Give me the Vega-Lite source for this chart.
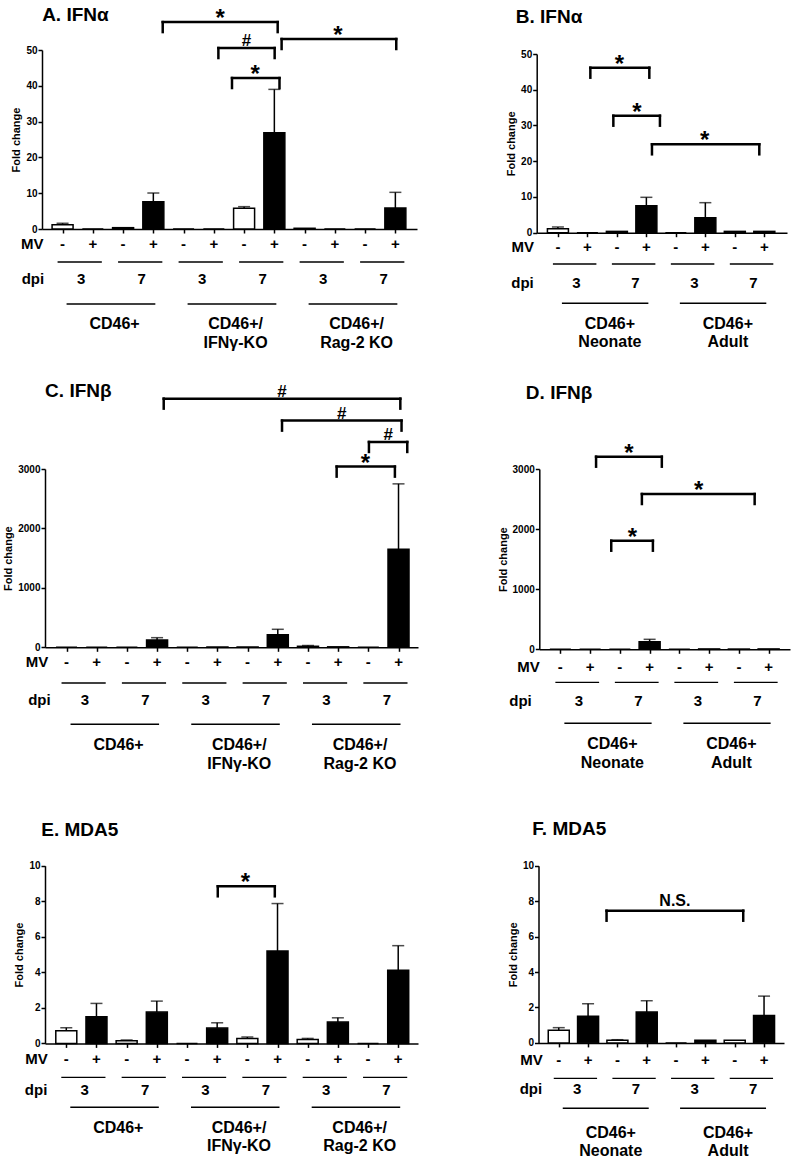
{
"$schema":"https://vega.github.io/schema/vega-lite/v6.json",
"width":794,"height":1158,"autosize":{"type":"none"},"padding":0,"background":"white",
"config":{"font":"Liberation Sans","view":{"stroke":null},
"axis":{"grid":false,"domainColor":"black","domainWidth":1.5,"tickColor":"black","tickWidth":1.5,"tickSize":4,"labelFont":"Liberation Sans","labelFontWeight":"bold","labelFontSize":10,"labelColor":"black","labelPadding":1,"titleFont":"Liberation Sans","titleFontWeight":"bold","titleFontSize":11,"titleColor":"black","titlePadding":4},
"text":{"font":"Liberation Sans","fontWeight":"bold","color":"black"}},
"datasets":{
"bars":[
{"p":"A","pos":0,"mv":"-","v":1.2,"err":1.6},{"p":"A","pos":1,"mv":"+","v":0},{"p":"A","pos":2,"mv":"-","v":0.37},{"p":"A","pos":3,"mv":"+","v":7.6,"err":10.05},{"p":"A","pos":4,"mv":"-","v":0},{"p":"A","pos":5,"mv":"+","v":0},{"p":"A","pos":6,"mv":"-","v":5.77,"err":6.24},{"p":"A","pos":7,"mv":"+","v":26.9,"err":39.0},{"p":"A","pos":8,"mv":"-","v":0.2},{"p":"A","pos":9,"mv":"+","v":0},{"p":"A","pos":10,"mv":"-","v":0},{"p":"A","pos":11,"mv":"+","v":5.87,"err":10.24},
{"p":"B","pos":0,"mv":"-","v":1.1,"err":1.6},{"p":"B","pos":1,"mv":"+","v":0},{"p":"B","pos":2,"mv":"-","v":0.37},{"p":"B","pos":3,"mv":"+","v":7.55,"err":9.9},{"p":"B","pos":4,"mv":"-","v":0},{"p":"B","pos":5,"mv":"+","v":4.2,"err":8.4},{"p":"B","pos":6,"mv":"-","v":0.37},{"p":"B","pos":7,"mv":"+","v":0.37},
{"p":"C","pos":0,"mv":"-","v":0},{"p":"C","pos":1,"mv":"+","v":0},{"p":"C","pos":2,"mv":"-","v":0},{"p":"C","pos":3,"mv":"+","v":123,"err":162},{"p":"C","pos":4,"mv":"-","v":0},{"p":"C","pos":5,"mv":"+","v":5},{"p":"C","pos":6,"mv":"-","v":5},{"p":"C","pos":7,"mv":"+","v":212,"err":303},{"p":"C","pos":8,"mv":"-","v":17,"err":30},{"p":"C","pos":9,"mv":"+","v":8},{"p":"C","pos":10,"mv":"-","v":0},{"p":"C","pos":11,"mv":"+","v":1650,"err":2750},
{"p":"D","pos":0,"mv":"-","v":0},{"p":"D","pos":1,"mv":"+","v":0},{"p":"D","pos":2,"mv":"-","v":0},{"p":"D","pos":3,"mv":"+","v":126,"err":166},{"p":"D","pos":4,"mv":"-","v":0},{"p":"D","pos":5,"mv":"+","v":6},{"p":"D","pos":6,"mv":"-","v":4},{"p":"D","pos":7,"mv":"+","v":6},
{"p":"E","pos":0,"mv":"-","v":0.71,"err":0.88},{"p":"E","pos":1,"mv":"+","v":1.5,"err":2.25},{"p":"E","pos":2,"mv":"-","v":0.15,"err":0.19},{"p":"E","pos":3,"mv":"+","v":1.76,"err":2.38},{"p":"E","pos":4,"mv":"-","v":0},{"p":"E","pos":5,"mv":"+","v":0.86,"err":1.16},{"p":"E","pos":6,"mv":"-","v":0.28,"err":0.36},{"p":"E","pos":7,"mv":"+","v":5.2,"err":7.87},{"p":"E","pos":8,"mv":"-","v":0.22,"err":0.28},{"p":"E","pos":9,"mv":"+","v":1.2,"err":1.44},{"p":"E","pos":10,"mv":"-","v":0},{"p":"E","pos":11,"mv":"+","v":4.12,"err":5.5},
{"p":"F","pos":0,"mv":"-","v":0.71,"err":0.86},{"p":"F","pos":1,"mv":"+","v":1.5,"err":2.21},{"p":"F","pos":2,"mv":"-","v":0.15,"err":0.18},{"p":"F","pos":3,"mv":"+","v":1.74,"err":2.38},{"p":"F","pos":4,"mv":"-","v":0},{"p":"F","pos":5,"mv":"+","v":0.15},{"p":"F","pos":6,"mv":"-","v":0.15},{"p":"F","pos":7,"mv":"+","v":1.55,"err":2.64}
],
"dpi":[
{"p":"A","a":0,"b":1,"dpi":"3"},{"p":"A","a":2,"b":3,"dpi":"7"},{"p":"A","a":4,"b":5,"dpi":"3"},{"p":"A","a":6,"b":7,"dpi":"7"},{"p":"A","a":8,"b":9,"dpi":"3"},{"p":"A","a":10,"b":11,"dpi":"7"},
{"p":"B","a":0,"b":1,"dpi":"3"},{"p":"B","a":2,"b":3,"dpi":"7"},{"p":"B","a":4,"b":5,"dpi":"3"},{"p":"B","a":6,"b":7,"dpi":"7"},
{"p":"C","a":0,"b":1,"dpi":"3"},{"p":"C","a":2,"b":3,"dpi":"7"},{"p":"C","a":4,"b":5,"dpi":"3"},{"p":"C","a":6,"b":7,"dpi":"7"},{"p":"C","a":8,"b":9,"dpi":"3"},{"p":"C","a":10,"b":11,"dpi":"7"},
{"p":"D","a":0,"b":1,"dpi":"3"},{"p":"D","a":2,"b":3,"dpi":"7"},{"p":"D","a":4,"b":5,"dpi":"3"},{"p":"D","a":6,"b":7,"dpi":"7"},
{"p":"E","a":0,"b":1,"dpi":"3"},{"p":"E","a":2,"b":3,"dpi":"7"},{"p":"E","a":4,"b":5,"dpi":"3"},{"p":"E","a":6,"b":7,"dpi":"7"},{"p":"E","a":8,"b":9,"dpi":"3"},{"p":"E","a":10,"b":11,"dpi":"7"},
{"p":"F","a":0,"b":1,"dpi":"3"},{"p":"F","a":2,"b":3,"dpi":"7"},{"p":"F","a":4,"b":5,"dpi":"3"},{"p":"F","a":6,"b":7,"dpi":"7"}
],
"grp":[
{"p":"A","a":0,"b":3,"label":"CD46+"},{"p":"A","a":4,"b":7,"label":["CD46+/","IFNγ-KO"]},{"p":"A","a":8,"b":11,"label":["CD46+/","Rag-2 KO"]},
{"p":"B","a":0,"b":3,"label":["CD46+","Neonate"]},{"p":"B","a":4,"b":7,"label":["CD46+","Adult"]},
{"p":"C","a":0,"b":3,"label":"CD46+"},{"p":"C","a":4,"b":7,"label":["CD46+/","IFNγ-KO"]},{"p":"C","a":8,"b":11,"label":["CD46+/","Rag-2 KO"]},
{"p":"D","a":0,"b":3,"label":["CD46+","Neonate"]},{"p":"D","a":4,"b":7,"label":["CD46+","Adult"]},
{"p":"E","a":0,"b":3,"label":"CD46+"},{"p":"E","a":4,"b":7,"label":["CD46+/","IFNγ-KO"]},{"p":"E","a":8,"b":11,"label":["CD46+/","Rag-2 KO"]},
{"p":"F","a":0,"b":3,"label":["CD46+","Neonate"]},{"p":"F","a":4,"b":7,"label":["CD46+","Adult"]}
],
"br":[
{"p":"A","from":3.31,"to":7.11,"mid":5.21,"level":57.8,"label":"*"},
{"p":"A","from":5.15,"to":7.01,"mid":6.08,"level":50.55,"label":"#"},
{"p":"A","from":5.6,"to":7.17,"mid":6.37,"level":42.17,"label":"*"},
{"p":"A","from":7.24,"to":11.03,"mid":9.1,"level":53.07,"label":"*"},
{"p":"B","from":1.1,"to":3.1,"mid":2.09,"level":46.17,"label":"*"},
{"p":"B","from":1.88,"to":3.46,"mid":2.68,"level":32.74,"label":"*"},
{"p":"B","from":3.19,"to":6.83,"mid":4.98,"level":24.73,"label":"*"},
{"p":"C","from":3.22,"to":11.06,"mid":7.14,"level":4184,"label":"#"},
{"p":"C","from":7.14,"to":11.1,"mid":9.12,"level":3814,"label":"#"},
{"p":"C","from":10.02,"to":11.29,"mid":10.66,"level":3455,"label":"#"},
{"p":"C","from":8.95,"to":10.88,"mid":9.9,"level":3040,"label":"*"},
{"p":"D","from":1.2,"to":3.41,"mid":2.3,"level":3205,"label":"*"},
{"p":"D","from":2.74,"to":6.53,"mid":4.65,"level":2584,"label":"*"},
{"p":"D","from":1.71,"to":3.11,"mid":2.42,"level":1807,"label":"*"},
{"p":"E","from":5.02,"to":6.91,"mid":5.94,"level":8.84,"label":"*"},
{"p":"F","from":1.63,"to":6.29,"mid":3.96,"level":7.46,"label":"N.S."}
]
},
"resolve":{"scale":{"x":"independent","y":"independent"},"axis":{"x":"independent","y":"independent"}},
"layer":[
{"layer":[
{"data":{"name":"bars"},"transform":[{"filter":"datum.p==='A'"}],"mark":{"type":"bar","size":21,"stroke":"black","strokeWidth":1.5},"encoding":{"x":{"field":"pos","type":"quantitative","scale":{"domain":[-0.515,11.55],"range":[42,417],"nice":false,"zero":false},"axis":{"orient":"bottom","offset":-929,"values":[0,1,2,3,4,5,6,7,8,9,10,11],"labels":false,"title":null}},"y":{"field":"v","type":"quantitative","scale":{"domain":[0,50],"range":[229,50],"nice":false,"zero":false},"axis":{"orient":"left","offset":-42,"values":[0,10,20,30,40,50],"format":"d","title":"Fold change"}},"fill":{"field":"mv","type":"nominal","scale":{"domain":["-","+"],"range":["white","black"]},"legend":null}}},
{"data":{"name":"bars"},"transform":[{"filter":"datum.p==='A' && isValid(datum.err)"}],"mark":{"type":"rule","strokeWidth":1.5,"color":"black"},"encoding":{"x":{"field":"pos","type":"quantitative"},"y":{"field":"v","type":"quantitative"},"y2":{"field":"err"}}},
{"data":{"name":"bars"},"transform":[{"filter":"datum.p==='A' && isValid(datum.err)"}],"mark":{"type":"tick","orient":"horizontal","size":12,"thickness":1.5,"color":"black"},"encoding":{"x":{"field":"pos","type":"quantitative"},"y":{"field":"err","type":"quantitative"}}},
{"data":{"name":"bars"},"transform":[{"filter":"datum.p==='A'"}],"mark":{"type":"text","fontSize":15,"baseline":"middle"},"encoding":{"x":{"field":"pos","type":"quantitative"},"y":{"datum":-4.19},"text":{"field":"mv"}}},
{"data":{"name":"dpi"},"transform":[{"filter":"datum.p==='A'"}],"mark":{"type":"rule","strokeWidth":1.3,"color":"black","xOffset":-5,"x2Offset":9},"encoding":{"x":{"field":"a","type":"quantitative"},"x2":{"field":"b"},"y":{"datum":-9.22}}},
{"data":{"name":"dpi"},"transform":[{"filter":"datum.p==='A'"}],"mark":{"type":"text","fontSize":15,"baseline":"middle","dx":18.5},"encoding":{"x":{"field":"a","type":"quantitative"},"y":{"datum":-13.97},"text":{"field":"dpi"}}},
{"data":{"name":"grp"},"transform":[{"filter":"datum.p==='A'"}],"mark":{"type":"rule","strokeWidth":1.5,"color":"black","xOffset":4,"x2Offset":2},"encoding":{"x":{"field":"a","type":"quantitative"},"x2":{"field":"b"},"y":{"datum":-20.95}}},
{"data":{"name":"grp"},"transform":[{"filter":"datum.p==='A'"}],"mark":{"type":"text","fontSize":16,"baseline":"top","dx":52,"lineHeight":18.5},"encoding":{"x":{"field":"a","type":"quantitative"},"y":{"datum":-24.4},"text":{"field":"label"}}},
{"data":{"name":"br"},"transform":[{"filter":"datum.p==='A'"}],"mark":{"type":"rule","strokeWidth":2.5,"strokeCap":"square","color":"black"},"encoding":{"x":{"field":"from","type":"quantitative"},"x2":{"field":"to"},"y":{"field":"level","type":"quantitative"}}},
{"data":{"name":"br"},"transform":[{"filter":"datum.p==='A'"},{"fold":["from","to"],"as":["end","xe"]}],"mark":{"type":"rule","strokeWidth":2.5,"strokeCap":"square","color":"black","y2Offset":10},"encoding":{"x":{"field":"xe","type":"quantitative"},"y":{"field":"level","type":"quantitative"},"y2":{"field":"level"}}},
{"data":{"name":"br"},"transform":[{"filter":"datum.p==='A' && datum.label==='*'"}],"mark":{"type":"text","fontSize":24,"baseline":"alphabetic","dy":4},"encoding":{"x":{"field":"mid","type":"quantitative"},"y":{"field":"level","type":"quantitative"},"text":{"field":"label"}}},
{"data":{"name":"br"},"transform":[{"filter":"datum.p==='A' && datum.label!=='*'"}],"mark":{"type":"text","fontSize":17,"baseline":"alphabetic","dy":-2},"encoding":{"x":{"field":"mid","type":"quantitative"},"y":{"field":"level","type":"quantitative"},"text":{"field":"label"}}},
{"data":{"values":[{"t":"MV"}]},"mark":{"type":"text","fontSize":15,"baseline":"middle"},"encoding":{"x":{"datum":-1.0},"y":{"datum":-4.19},"text":{"field":"t"}}},
{"data":{"values":[{"t":"dpi"}]},"mark":{"type":"text","fontSize":15,"baseline":"middle"},"encoding":{"x":{"datum":-0.98},"y":{"datum":-13.97},"text":{"field":"t"}}},
{"data":{"values":[{"t":"A. IFNα"}]},"mark":{"type":"text","fontSize":19,"baseline":"middle","align":"left"},"encoding":{"x":{"datum":-0.676},"y":{"datum":59.83},"text":{"field":"t"}}}
]},
{"layer":[
{"data":{"name":"bars"},"transform":[{"filter":"datum.p==='B'"}],"mark":{"type":"bar","size":21,"stroke":"black","strokeWidth":1.5},"encoding":{"x":{"field":"pos","type":"quantitative","scale":{"domain":[-0.55,7.6],"range":[536.7,787],"nice":false,"zero":false},"axis":{"orient":"bottom","offset":-925.3,"values":[0,1,2,3,4,5,6,7],"labels":false,"title":null}},"y":{"field":"v","type":"quantitative","scale":{"domain":[0,50],"range":[232.7,54],"nice":false,"zero":false},"axis":{"orient":"left","offset":-536.7,"values":[0,10,20,30,40,50],"format":"d","title":"Fold change"}},"fill":{"field":"mv","type":"nominal","scale":{"domain":["-","+"],"range":["white","black"]},"legend":null}}},
{"data":{"name":"bars"},"transform":[{"filter":"datum.p==='B' && isValid(datum.err)"}],"mark":{"type":"rule","strokeWidth":1.5,"color":"black"},"encoding":{"x":{"field":"pos","type":"quantitative"},"y":{"field":"v","type":"quantitative"},"y2":{"field":"err"}}},
{"data":{"name":"bars"},"transform":[{"filter":"datum.p==='B' && isValid(datum.err)"}],"mark":{"type":"tick","orient":"horizontal","size":12,"thickness":1.5,"color":"black"},"encoding":{"x":{"field":"pos","type":"quantitative"},"y":{"field":"err","type":"quantitative"}}},
{"data":{"name":"bars"},"transform":[{"filter":"datum.p==='B'"}],"mark":{"type":"text","fontSize":15,"baseline":"middle"},"encoding":{"x":{"field":"pos","type":"quantitative"},"y":{"datum":-4.0},"text":{"field":"mv"}}},
{"data":{"name":"dpi"},"transform":[{"filter":"datum.p==='B'"}],"mark":{"type":"rule","strokeWidth":1.3,"color":"black","xOffset":-5,"x2Offset":9},"encoding":{"x":{"field":"a","type":"quantitative"},"x2":{"field":"b"},"y":{"datum":-8.76}}},
{"data":{"name":"dpi"},"transform":[{"filter":"datum.p==='B'"}],"mark":{"type":"text","fontSize":15,"baseline":"middle","dx":18.5},"encoding":{"x":{"field":"a","type":"quantitative"},"y":{"datum":-14.07},"text":{"field":"dpi"}}},
{"data":{"name":"grp"},"transform":[{"filter":"datum.p==='B'"}],"mark":{"type":"rule","strokeWidth":1.5,"color":"black","xOffset":4,"x2Offset":2},"encoding":{"x":{"field":"a","type":"quantitative"},"x2":{"field":"b"},"y":{"datum":-19.75}}},
{"data":{"name":"grp"},"transform":[{"filter":"datum.p==='B'"}],"mark":{"type":"text","fontSize":16,"baseline":"top","dx":52,"lineHeight":18.5},"encoding":{"x":{"field":"a","type":"quantitative"},"y":{"datum":-23.2},"text":{"field":"label"}}},
{"data":{"name":"br"},"transform":[{"filter":"datum.p==='B'"}],"mark":{"type":"rule","strokeWidth":2.5,"strokeCap":"square","color":"black"},"encoding":{"x":{"field":"from","type":"quantitative"},"x2":{"field":"to"},"y":{"field":"level","type":"quantitative"}}},
{"data":{"name":"br"},"transform":[{"filter":"datum.p==='B'"},{"fold":["from","to"],"as":["end","xe"]}],"mark":{"type":"rule","strokeWidth":2.5,"strokeCap":"square","color":"black","y2Offset":10},"encoding":{"x":{"field":"xe","type":"quantitative"},"y":{"field":"level","type":"quantitative"},"y2":{"field":"level"}}},
{"data":{"name":"br"},"transform":[{"filter":"datum.p==='B' && datum.label==='*'"}],"mark":{"type":"text","fontSize":24,"baseline":"alphabetic","dy":4},"encoding":{"x":{"field":"mid","type":"quantitative"},"y":{"field":"level","type":"quantitative"},"text":{"field":"label"}}},
{"data":{"values":[{"t":"MV"}]},"mark":{"type":"text","fontSize":15,"baseline":"middle"},"encoding":{"x":{"datum":-1.19},"y":{"datum":-4.0},"text":{"field":"t"}}},
{"data":{"values":[{"t":"dpi"}]},"mark":{"type":"text","fontSize":15,"baseline":"middle"},"encoding":{"x":{"datum":-1.2},"y":{"datum":-14.07},"text":{"field":"t"}}},
{"data":{"values":[{"t":"B. IFNα"}]},"mark":{"type":"text","fontSize":19,"baseline":"middle","align":"left"},"encoding":{"x":{"datum":-1.43},"y":{"datum":60.46},"text":{"field":"t"}}}
]},
{"layer":[
{"data":{"name":"bars"},"transform":[{"filter":"datum.p==='C'"}],"mark":{"type":"bar","size":21,"stroke":"black","strokeWidth":1.5},"encoding":{"x":{"field":"pos","type":"quantitative","scale":{"domain":[-0.548,11.48],"range":[45,418],"nice":false,"zero":false},"axis":{"orient":"bottom","offset":-510.7,"values":[0,1,2,3,4,5,6,7,8,9,10,11],"labels":false,"title":null}},"y":{"field":"v","type":"quantitative","scale":{"domain":[0,3000],"range":[647.3,469],"nice":false,"zero":false},"axis":{"orient":"left","offset":-45,"values":[0,1000,2000,3000],"format":"d","title":"Fold change"}},"fill":{"field":"mv","type":"nominal","scale":{"domain":["-","+"],"range":["white","black"]},"legend":null}}},
{"data":{"name":"bars"},"transform":[{"filter":"datum.p==='C' && isValid(datum.err)"}],"mark":{"type":"rule","strokeWidth":1.5,"color":"black"},"encoding":{"x":{"field":"pos","type":"quantitative"},"y":{"field":"v","type":"quantitative"},"y2":{"field":"err"}}},
{"data":{"name":"bars"},"transform":[{"filter":"datum.p==='C' && isValid(datum.err)"}],"mark":{"type":"tick","orient":"horizontal","size":12,"thickness":1.5,"color":"black"},"encoding":{"x":{"field":"pos","type":"quantitative"},"y":{"field":"err","type":"quantitative"}}},
{"data":{"name":"bars"},"transform":[{"filter":"datum.p==='C'"}],"mark":{"type":"text","fontSize":15,"baseline":"middle"},"encoding":{"x":{"field":"pos","type":"quantitative"},"y":{"datum":-242},"text":{"field":"mv"}}},
{"data":{"name":"dpi"},"transform":[{"filter":"datum.p==='C'"}],"mark":{"type":"rule","strokeWidth":1.3,"color":"black","xOffset":-5,"x2Offset":9},"encoding":{"x":{"field":"a","type":"quantitative"},"x2":{"field":"b"},"y":{"datum":-601}}},
{"data":{"name":"dpi"},"transform":[{"filter":"datum.p==='C'"}],"mark":{"type":"text","fontSize":15,"baseline":"middle","dx":18.5},"encoding":{"x":{"field":"a","type":"quantitative"},"y":{"datum":-887},"text":{"field":"dpi"}}},
{"data":{"name":"grp"},"transform":[{"filter":"datum.p==='C'"}],"mark":{"type":"rule","strokeWidth":1.5,"color":"black","xOffset":4,"x2Offset":2},"encoding":{"x":{"field":"a","type":"quantitative"},"x2":{"field":"b"},"y":{"datum":-1296}}},
{"data":{"name":"grp"},"transform":[{"filter":"datum.p==='C'"}],"mark":{"type":"text","fontSize":16,"baseline":"top","dx":52,"lineHeight":18.5},"encoding":{"x":{"field":"a","type":"quantitative"},"y":{"datum":-1510},"text":{"field":"label"}}},
{"data":{"name":"br"},"transform":[{"filter":"datum.p==='C'"}],"mark":{"type":"rule","strokeWidth":2.5,"strokeCap":"square","color":"black"},"encoding":{"x":{"field":"from","type":"quantitative"},"x2":{"field":"to"},"y":{"field":"level","type":"quantitative"}}},
{"data":{"name":"br"},"transform":[{"filter":"datum.p==='C'"},{"fold":["from","to"],"as":["end","xe"]}],"mark":{"type":"rule","strokeWidth":2.5,"strokeCap":"square","color":"black","y2Offset":10},"encoding":{"x":{"field":"xe","type":"quantitative"},"y":{"field":"level","type":"quantitative"},"y2":{"field":"level"}}},
{"data":{"name":"br"},"transform":[{"filter":"datum.p==='C' && datum.label==='*'"}],"mark":{"type":"text","fontSize":24,"baseline":"alphabetic","dy":4},"encoding":{"x":{"field":"mid","type":"quantitative"},"y":{"field":"level","type":"quantitative"},"text":{"field":"label"}}},
{"data":{"name":"br"},"transform":[{"filter":"datum.p==='C' && datum.label!=='*'"}],"mark":{"type":"text","fontSize":17,"baseline":"alphabetic","dy":-2},"encoding":{"x":{"field":"mid","type":"quantitative"},"y":{"field":"level","type":"quantitative"},"text":{"field":"label"}}},
{"data":{"values":[{"t":"MV"}]},"mark":{"type":"text","fontSize":15,"baseline":"middle"},"encoding":{"x":{"datum":-0.98},"y":{"datum":-242},"text":{"field":"t"}}},
{"data":{"values":[{"t":"dpi"}]},"mark":{"type":"text","fontSize":15,"baseline":"middle"},"encoding":{"x":{"datum":-0.9},"y":{"datum":-887},"text":{"field":"t"}}},
{"data":{"values":[{"t":"C. IFNβ"}]},"mark":{"type":"text","fontSize":19,"baseline":"middle","align":"left"},"encoding":{"x":{"datum":-0.71},"y":{"datum":4317},"text":{"field":"t"}}}
]},
{"layer":[
{"data":{"name":"bars"},"transform":[{"filter":"datum.p==='D'"}],"mark":{"type":"bar","size":21,"stroke":"black","strokeWidth":1.5},"encoding":{"x":{"field":"pos","type":"quantitative","scale":{"domain":[-0.54,7.55],"range":[539.3,790],"nice":false,"zero":false},"axis":{"orient":"bottom","offset":-508.7,"values":[0,1,2,3,4,5,6,7],"labels":false,"title":null}},"y":{"field":"v","type":"quantitative","scale":{"domain":[0,3000],"range":[649.3,469],"nice":false,"zero":false},"axis":{"orient":"left","offset":-539.3,"values":[0,1000,2000,3000],"format":"d","title":"Fold change"}},"fill":{"field":"mv","type":"nominal","scale":{"domain":["-","+"],"range":["white","black"]},"legend":null}}},
{"data":{"name":"bars"},"transform":[{"filter":"datum.p==='D' && isValid(datum.err)"}],"mark":{"type":"rule","strokeWidth":1.5,"color":"black"},"encoding":{"x":{"field":"pos","type":"quantitative"},"y":{"field":"v","type":"quantitative"},"y2":{"field":"err"}}},
{"data":{"name":"bars"},"transform":[{"filter":"datum.p==='D' && isValid(datum.err)"}],"mark":{"type":"tick","orient":"horizontal","size":12,"thickness":1.5,"color":"black"},"encoding":{"x":{"field":"pos","type":"quantitative"},"y":{"field":"err","type":"quantitative"}}},
{"data":{"name":"bars"},"transform":[{"filter":"datum.p==='D'"}],"mark":{"type":"text","fontSize":15,"baseline":"middle"},"encoding":{"x":{"field":"pos","type":"quantitative"},"y":{"datum":-290},"text":{"field":"mv"}}},
{"data":{"name":"dpi"},"transform":[{"filter":"datum.p==='D'"}],"mark":{"type":"rule","strokeWidth":1.3,"color":"black","xOffset":-5,"x2Offset":9},"encoding":{"x":{"field":"a","type":"quantitative"},"x2":{"field":"b"},"y":{"datum":-549}}},
{"data":{"name":"dpi"},"transform":[{"filter":"datum.p==='D'"}],"mark":{"type":"text","fontSize":15,"baseline":"middle","dx":18.5},"encoding":{"x":{"field":"a","type":"quantitative"},"y":{"datum":-855},"text":{"field":"dpi"}}},
{"data":{"name":"grp"},"transform":[{"filter":"datum.p==='D'"}],"mark":{"type":"rule","strokeWidth":1.5,"color":"black","xOffset":4,"x2Offset":2},"encoding":{"x":{"field":"a","type":"quantitative"},"x2":{"field":"b"},"y":{"datum":-1231}}},
{"data":{"name":"grp"},"transform":[{"filter":"datum.p==='D'"}],"mark":{"type":"text","fontSize":16,"baseline":"top","dx":52,"lineHeight":18.5},"encoding":{"x":{"field":"a","type":"quantitative"},"y":{"datum":-1448},"text":{"field":"label"}}},
{"data":{"name":"br"},"transform":[{"filter":"datum.p==='D'"}],"mark":{"type":"rule","strokeWidth":2.5,"strokeCap":"square","color":"black"},"encoding":{"x":{"field":"from","type":"quantitative"},"x2":{"field":"to"},"y":{"field":"level","type":"quantitative"}}},
{"data":{"name":"br"},"transform":[{"filter":"datum.p==='D'"},{"fold":["from","to"],"as":["end","xe"]}],"mark":{"type":"rule","strokeWidth":2.5,"strokeCap":"square","color":"black","y2Offset":10},"encoding":{"x":{"field":"xe","type":"quantitative"},"y":{"field":"level","type":"quantitative"},"y2":{"field":"level"}}},
{"data":{"name":"br"},"transform":[{"filter":"datum.p==='D' && datum.label==='*'"}],"mark":{"type":"text","fontSize":24,"baseline":"alphabetic","dy":4},"encoding":{"x":{"field":"mid","type":"quantitative"},"y":{"field":"level","type":"quantitative"},"text":{"field":"label"}}},
{"data":{"values":[{"t":"MV"}]},"mark":{"type":"text","fontSize":15,"baseline":"middle"},"encoding":{"x":{"datum":-1.07},"y":{"datum":-290},"text":{"field":"t"}}},
{"data":{"values":[{"t":"dpi"}]},"mark":{"type":"text","fontSize":15,"baseline":"middle"},"encoding":{"x":{"datum":-1.34},"y":{"datum":-855},"text":{"field":"t"}}},
{"data":{"values":[{"t":"D. IFNβ"}]},"mark":{"type":"text","fontSize":19,"baseline":"middle","align":"left"},"encoding":{"x":{"datum":-1.16},"y":{"datum":4260},"text":{"field":"t"}}}
]},
{"layer":[
{"data":{"name":"bars"},"transform":[{"filter":"datum.p==='E'"}],"mark":{"type":"bar","size":21,"stroke":"black","strokeWidth":1.5},"encoding":{"x":{"field":"pos","type":"quantitative","scale":{"domain":[-0.54,11.49],"range":[45,418],"nice":false,"zero":false},"axis":{"orient":"bottom","offset":-114.6,"values":[0,1,2,3,4,5,6,7,8,9,10,11],"labels":false,"title":null}},"y":{"field":"v","type":"quantitative","scale":{"domain":[0,10],"range":[1043.4,865.7],"nice":false,"zero":false},"axis":{"orient":"left","offset":-45,"values":[0,2,4,6,8,10],"format":"d","title":"Fold change"}},"fill":{"field":"mv","type":"nominal","scale":{"domain":["-","+"],"range":["white","black"]},"legend":null}}},
{"data":{"name":"bars"},"transform":[{"filter":"datum.p==='E' && isValid(datum.err)"}],"mark":{"type":"rule","strokeWidth":1.5,"color":"black"},"encoding":{"x":{"field":"pos","type":"quantitative"},"y":{"field":"v","type":"quantitative"},"y2":{"field":"err"}}},
{"data":{"name":"bars"},"transform":[{"filter":"datum.p==='E' && isValid(datum.err)"}],"mark":{"type":"tick","orient":"horizontal","size":12,"thickness":1.5,"color":"black"},"encoding":{"x":{"field":"pos","type":"quantitative"},"y":{"field":"err","type":"quantitative"}}},
{"data":{"name":"bars"},"transform":[{"filter":"datum.p==='E'"}],"mark":{"type":"text","fontSize":15,"baseline":"middle"},"encoding":{"x":{"field":"pos","type":"quantitative"},"y":{"datum":-0.895},"text":{"field":"mv"}}},
{"data":{"name":"dpi"},"transform":[{"filter":"datum.p==='E'"}],"mark":{"type":"rule","strokeWidth":1.3,"color":"black","xOffset":-5,"x2Offset":9},"encoding":{"x":{"field":"a","type":"quantitative"},"x2":{"field":"b"},"y":{"datum":-1.91}}},
{"data":{"name":"dpi"},"transform":[{"filter":"datum.p==='E'"}],"mark":{"type":"text","fontSize":15,"baseline":"middle","dx":18.5},"encoding":{"x":{"field":"a","type":"quantitative"},"y":{"datum":-2.62},"text":{"field":"dpi"}}},
{"data":{"name":"grp"},"transform":[{"filter":"datum.p==='E'"}],"mark":{"type":"rule","strokeWidth":1.5,"color":"black","xOffset":4,"x2Offset":2},"encoding":{"x":{"field":"a","type":"quantitative"},"x2":{"field":"b"},"y":{"datum":-3.6}}},
{"data":{"name":"grp"},"transform":[{"filter":"datum.p==='E'"}],"mark":{"type":"text","fontSize":16,"baseline":"top","dx":52,"lineHeight":18.5},"encoding":{"x":{"field":"a","type":"quantitative"},"y":{"datum":-4.3},"text":{"field":"label"}}},
{"data":{"name":"br"},"transform":[{"filter":"datum.p==='E'"}],"mark":{"type":"rule","strokeWidth":2.5,"strokeCap":"square","color":"black"},"encoding":{"x":{"field":"from","type":"quantitative"},"x2":{"field":"to"},"y":{"field":"level","type":"quantitative"}}},
{"data":{"name":"br"},"transform":[{"filter":"datum.p==='E'"},{"fold":["from","to"],"as":["end","xe"]}],"mark":{"type":"rule","strokeWidth":2.5,"strokeCap":"square","color":"black","y2Offset":10},"encoding":{"x":{"field":"xe","type":"quantitative"},"y":{"field":"level","type":"quantitative"},"y2":{"field":"level"}}},
{"data":{"name":"br"},"transform":[{"filter":"datum.p==='E' && datum.label==='*'"}],"mark":{"type":"text","fontSize":24,"baseline":"alphabetic","dy":4},"encoding":{"x":{"field":"mid","type":"quantitative"},"y":{"field":"level","type":"quantitative"},"text":{"field":"label"}}},
{"data":{"values":[{"t":"MV"}]},"mark":{"type":"text","fontSize":15,"baseline":"middle"},"encoding":{"x":{"datum":-0.99},"y":{"datum":-0.895},"text":{"field":"t"}}},
{"data":{"values":[{"t":"dpi"}]},"mark":{"type":"text","fontSize":15,"baseline":"middle"},"encoding":{"x":{"datum":-1.0},"y":{"datum":-2.62},"text":{"field":"t"}}},
{"data":{"values":[{"t":"E. MDA5"}]},"mark":{"type":"text","fontSize":19,"baseline":"middle","align":"left"},"encoding":{"x":{"datum":-0.83},"y":{"datum":12.02},"text":{"field":"t"}}}
]},
{"layer":[
{"data":{"name":"bars"},"transform":[{"filter":"datum.p==='F'"}],"mark":{"type":"bar","size":21,"stroke":"black","strokeWidth":1.5},"encoding":{"x":{"field":"pos","type":"quantitative","scale":{"domain":[-0.52,7.51],"range":[538.5,784],"nice":false,"zero":false},"axis":{"orient":"bottom","offset":-115.1,"values":[0,1,2,3,4,5,6,7],"labels":false,"title":null}},"y":{"field":"v","type":"quantitative","scale":{"domain":[0,10],"range":[1042.9,865.7],"nice":false,"zero":false},"axis":{"orient":"left","offset":-538.5,"values":[0,2,4,6,8,10],"format":"d","title":"Fold change"}},"fill":{"field":"mv","type":"nominal","scale":{"domain":["-","+"],"range":["white","black"]},"legend":null}}},
{"data":{"name":"bars"},"transform":[{"filter":"datum.p==='F' && isValid(datum.err)"}],"mark":{"type":"rule","strokeWidth":1.5,"color":"black"},"encoding":{"x":{"field":"pos","type":"quantitative"},"y":{"field":"v","type":"quantitative"},"y2":{"field":"err"}}},
{"data":{"name":"bars"},"transform":[{"filter":"datum.p==='F' && isValid(datum.err)"}],"mark":{"type":"tick","orient":"horizontal","size":12,"thickness":1.5,"color":"black"},"encoding":{"x":{"field":"pos","type":"quantitative"},"y":{"field":"err","type":"quantitative"}}},
{"data":{"name":"bars"},"transform":[{"filter":"datum.p==='F'"}],"mark":{"type":"text","fontSize":15,"baseline":"middle"},"encoding":{"x":{"field":"pos","type":"quantitative"},"y":{"datum":-0.965},"text":{"field":"mv"}}},
{"data":{"name":"dpi"},"transform":[{"filter":"datum.p==='F'"}],"mark":{"type":"rule","strokeWidth":1.3,"color":"black","xOffset":-5,"x2Offset":9},"encoding":{"x":{"field":"a","type":"quantitative"},"x2":{"field":"b"},"y":{"datum":-2.0}}},
{"data":{"name":"dpi"},"transform":[{"filter":"datum.p==='F'"}],"mark":{"type":"text","fontSize":15,"baseline":"middle","dx":18.5},"encoding":{"x":{"field":"a","type":"quantitative"},"y":{"datum":-2.62},"text":{"field":"dpi"}}},
{"data":{"name":"grp"},"transform":[{"filter":"datum.p==='F'"}],"mark":{"type":"rule","strokeWidth":1.5,"color":"black","xOffset":4,"x2Offset":2},"encoding":{"x":{"field":"a","type":"quantitative"},"x2":{"field":"b"},"y":{"datum":-3.69}}},
{"data":{"name":"grp"},"transform":[{"filter":"datum.p==='F'"}],"mark":{"type":"text","fontSize":16,"baseline":"top","dx":52,"lineHeight":18.5},"encoding":{"x":{"field":"a","type":"quantitative"},"y":{"datum":-4.63},"text":{"field":"label"}}},
{"data":{"name":"br"},"transform":[{"filter":"datum.p==='F'"}],"mark":{"type":"rule","strokeWidth":2.5,"strokeCap":"square","color":"black"},"encoding":{"x":{"field":"from","type":"quantitative"},"x2":{"field":"to"},"y":{"field":"level","type":"quantitative"}}},
{"data":{"name":"br"},"transform":[{"filter":"datum.p==='F'"},{"fold":["from","to"],"as":["end","xe"]}],"mark":{"type":"rule","strokeWidth":2.5,"strokeCap":"square","color":"black","y2Offset":10},"encoding":{"x":{"field":"xe","type":"quantitative"},"y":{"field":"level","type":"quantitative"},"y2":{"field":"level"}}},
{"data":{"name":"br"},"transform":[{"filter":"datum.p==='F' && datum.label!=='*'"}],"mark":{"type":"text","fontSize":16,"baseline":"alphabetic","dy":-5},"encoding":{"x":{"field":"mid","type":"quantitative"},"y":{"field":"level","type":"quantitative"},"text":{"field":"label"}}},
{"data":{"values":[{"t":"MV"}]},"mark":{"type":"text","fontSize":15,"baseline":"middle"},"encoding":{"x":{"datum":-0.93},"y":{"datum":-0.965},"text":{"field":"t"}}},
{"data":{"values":[{"t":"dpi"}]},"mark":{"type":"text","fontSize":15,"baseline":"middle"},"encoding":{"x":{"datum":-0.95},"y":{"datum":-2.62},"text":{"field":"t"}}},
{"data":{"values":[{"t":"F. MDA5"}]},"mark":{"type":"text","fontSize":19,"baseline":"middle","align":"left"},"encoding":{"x":{"datum":-0.9},"y":{"datum":12.08},"text":{"field":"t"}}}
]}
]
}
